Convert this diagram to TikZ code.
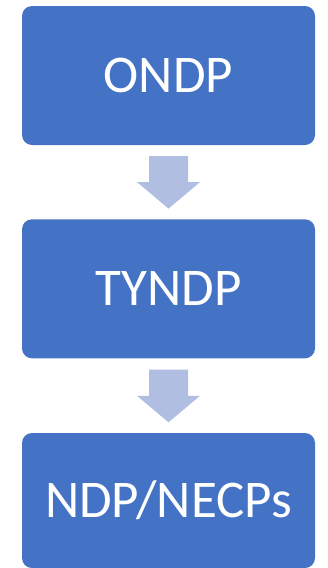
\documentclass[tikz,border=0pt]{standalone}
\usepackage{fontspec}
\setmainfont{Carlito}
\definecolor{boxblue}{HTML}{4472C4}
\definecolor{arrowblue}{HTML}{B0BFE1}
\begin{document}
\begin{tikzpicture}[x=1pt,y=1pt,
  planbox/.style={fill=boxblue, draw=none, rounded corners=10pt,
    minimum width=293pt, minimum height=139pt, inner sep=0pt,
    text=white, font=\fontsize{53}{60}\selectfont},
  flowarrow/.style={fill=arrowblue, draw=none}]
\useasboundingbox (0,0) rectangle (327,-568);
\node[planbox] (ondp)  at (168.5,-75.5)  {ONDP};
\node[planbox] (tyndp) at (168.5,-288.8) {TYNDP};
\node[planbox, minimum height=135pt] (ndp) at (168.5,-500.5) {NDP/NECPs};
% block arrows between the boxes
\foreach \a/\b in {ondp/tyndp, tyndp/ndp}{
  \path (\a.south) ++(0,-11) coordinate (top-\a);
  \path (\b.north) ++(0,10.5) coordinate (tip-\a);
  \fill[flowarrow] ([xshift=-19.5pt]top-\a) -- ([xshift=19.5pt]top-\a)
    -- ([xshift=19.5pt,yshift=26.5pt]tip-\a) -- ([xshift=31.5pt,yshift=26.5pt]tip-\a)
    -- (tip-\a) -- ([xshift=-31.5pt,yshift=26.5pt]tip-\a)
    -- ([xshift=-19.5pt,yshift=26.5pt]tip-\a) -- cycle;
}
\end{tikzpicture}
\end{document}
